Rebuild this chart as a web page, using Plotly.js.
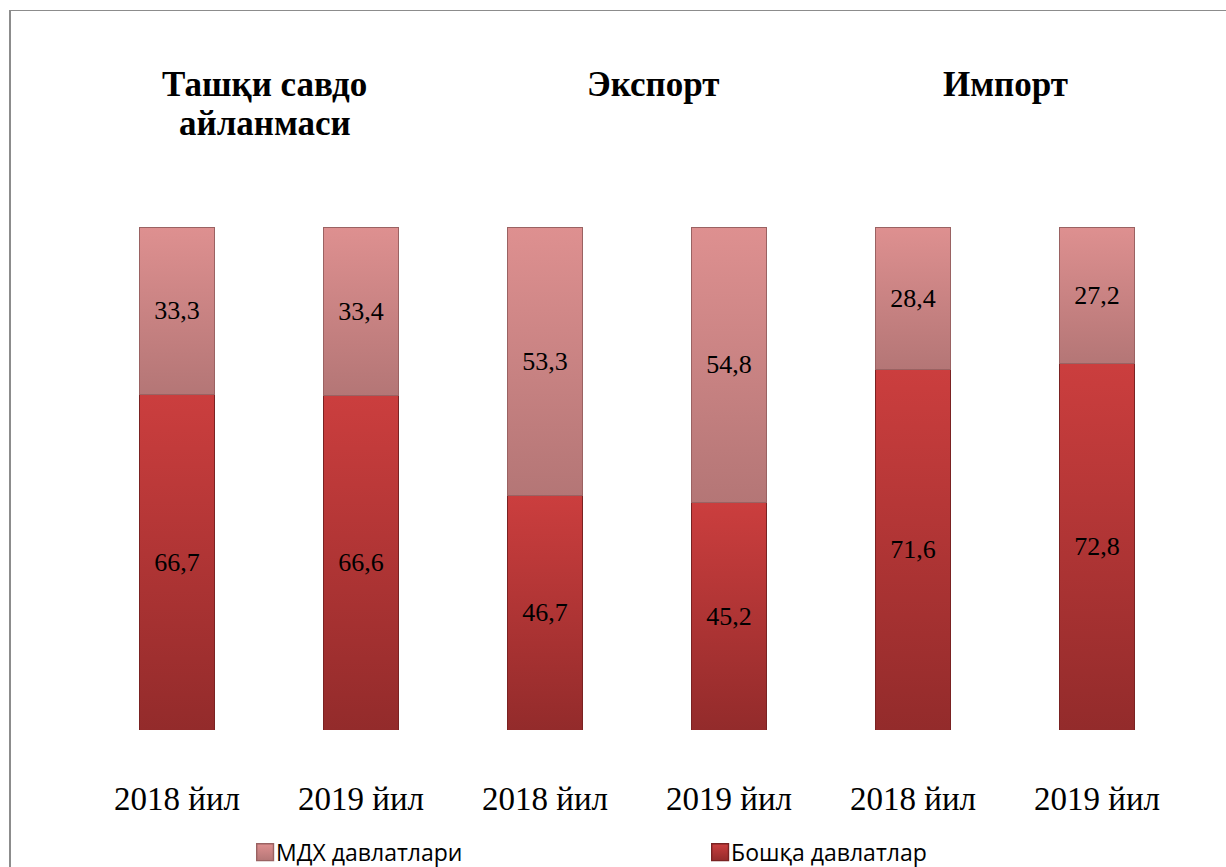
<!DOCTYPE html>
<html>
<head>
<meta charset="utf-8">
<script src="https://cdn.plot.ly/plotly-3.0.1.min.js"></script>
<style>
  body { margin: 0; background: #fff; }
  #wrap { position: relative; width: 1226px; height: 867px; }
  #plot { width: 1226px; height: 867px; }
  #frame {
    position: absolute; left: 9px; top: 10px; right: -5px; bottom: -5px;
    border-left: 2px solid #8c8c8c; border-top: 1px solid #8c8c8c;
    pointer-events: none;
  }
</style>
</head>
<body>
<div id="wrap">
  <div id="plot"></div>
  <div id="frame"></div>
</div>
<script>
// categories (one per bar) and their labels
var barIds = ["t2018", "t2019", "e2018", "e2019", "i2018", "i2019"];
var tickLabels = ["2018 йил", "2019 йил", "2018 йил", "2019 йил", "2018 йил", "2019 йил"];

// shares, %
var otherCountries = [66.7, 66.6, 46.7, 45.2, 71.6, 72.8];
var cisCountries = [33.3, 33.4, 53.3, 54.8, 28.4, 27.2];

// group headings (one line each)
var headingLines = ["Ташқи савдо", "айланмаси", "Экспорт", "Импорт"];

function fmt(v) { return v.toFixed(1).replace(".", ","); }

var serif = "Liberation Serif, Times New Roman, serif";

var traceOther = {
  x: barIds,
  y: otherCountries,
  name: "Бошқа давлатлар",
  type: "bar",
  text: otherCountries.map(fmt),
  textposition: "inside",
  insidetextanchor: "middle",
  textfont: {family: serif, size: 26, color: "#000"},
  marker: {color: "#b03434", line: {color: "#7a2222", width: 1}},
  legendrank: 2,
  hoverinfo: "skip"
};

var traceCis = {
  x: barIds,
  y: cisCountries,
  name: "МДХ давлатлари",
  type: "bar",
  text: cisCountries.map(fmt),
  textposition: "inside",
  insidetextanchor: "middle",
  textfont: {family: serif, size: 26, color: "#000"},
  marker: {color: "#cc8585", line: {color: "#9a6262", width: 1}},
  legendrank: 1,
  hoverinfo: "skip"
};

// heading placement in paper coordinates
var headX = [0.163, 0.163, 0.5145, 0.834];
var headY = [1.284, 1.205, 1.284, 1.284];
var annotations = headingLines.map(function (t, i) {
  return {
    text: "<b>" + t + "</b>", x: headX[i], xref: "paper",
    y: headY[i], yref: "paper", yanchor: "middle", xanchor: "center",
    showarrow: false,
    font: {family: serif, size: 35, color: "#000"}
  };
});

var layout = {
  width: 1226, height: 867,
  margin: {l: 85, r: 37, t: 227, b: 137, autoexpand: false},
  barmode: "stack",
  bargap: 0.59,
  paper_bgcolor: "#fff",
  plot_bgcolor: "#fff",
  showlegend: true,
  legend: {
    orientation: "h", x: 0.549, xanchor: "center", y: -0.243, yanchor: "middle",
    traceorder: "normal",
    font: {family: "Open Sans, Noto Sans, sans-serif", size: 23, color: "#000"},
    entrywidth: 410, itemwidth: 30
  },
  xaxis: {
    tickvals: barIds, ticktext: tickLabels,
    showline: false, showgrid: false, zeroline: false, ticks: "",
    ticklabelstandoff: 46,
    tickfont: {family: serif, size: 33, color: "#000"}
  },
  yaxis: {
    range: [0, 100], visible: false, showgrid: false, zeroline: false
  },
  annotations: annotations
};

// vertical shading like the original's bevelled bars
var shades = {
  "Бошқа давлатлар": ["#cb3e3e", "#932b2b"],
  "МДХ давлатлари": ["#de9090", "#b47676"]
};

Plotly.newPlot("plot", [traceOther, traceCis], layout, {displayModeBar: false, staticPlot: true}).then(function (gd) {
  var ns = "http://www.w3.org/2000/svg";
  var svg = gd.querySelector(".main-svg");
  var defs = svg.querySelector("defs") || svg.insertBefore(document.createElementNS(ns, "defs"), svg.firstChild);
  var ids = {};
  Object.keys(shades).forEach(function (name, k) {
    var g = document.createElementNS(ns, "linearGradient");
    g.setAttribute("id", "shade" + k);
    g.setAttribute("x1", "0"); g.setAttribute("y1", "0");
    g.setAttribute("x2", "0"); g.setAttribute("y2", "1");
    shades[name].forEach(function (c, j) {
      var s = document.createElementNS(ns, "stop");
      s.setAttribute("offset", j ? "1" : "0");
      s.setAttribute("stop-color", c);
      g.appendChild(s);
    });
    defs.appendChild(g);
    ids[name] = "url(#shade" + k + ")";
  });
  var names = [traceOther.name, traceCis.name];
  gd.querySelectorAll(".trace.bars").forEach(function (tr, i) {
    tr.querySelectorAll(".point path").forEach(function (p) { p.style.fill = ids[names[i]]; });
  });
  // legend swatches: gradient, a bit bigger and closer to the text, as in the original
  gd.querySelectorAll(".legend .traces").forEach(function (tr) {
    var nm = tr.querySelector(".legendtext").textContent;
    if (ids[nm]) tr.querySelectorAll(".legendpoints path").forEach(function (p) {
      p.style.fill = ids[nm];
      p.setAttribute("transform", "translate(29,0) scale(1.4)");
    });
  });
});
</script>
</body>
</html>
